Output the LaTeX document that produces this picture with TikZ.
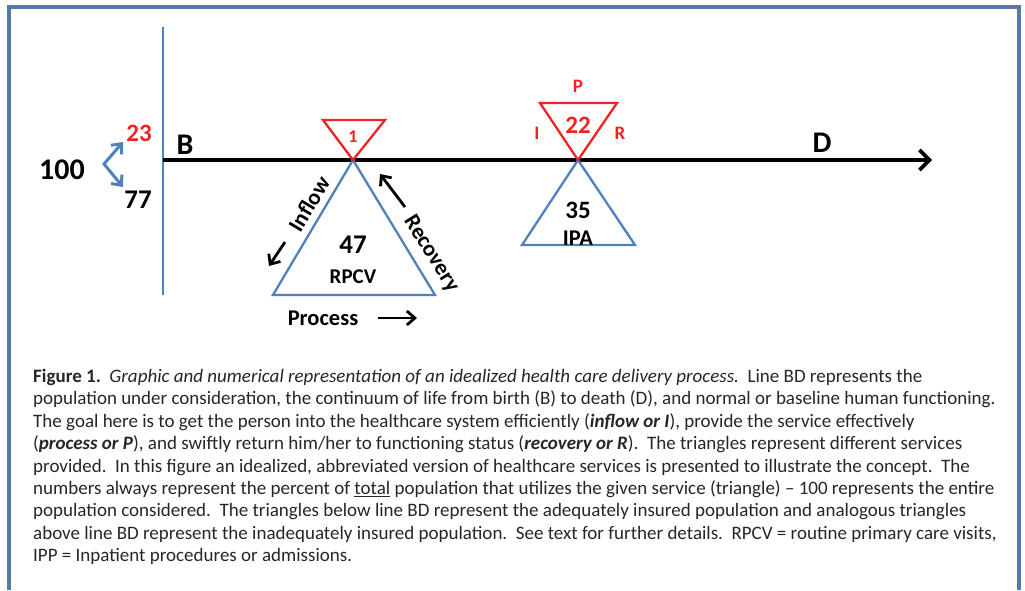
\documentclass[tikz,border=0pt]{standalone}
\usepackage{fontspec}
\setmainfont{Carlito}
\usepackage{xcolor}
\usetikzlibrary{arrows.meta,positioning}
\definecolor{lineblue}{HTML}{4F81BD}
\definecolor{frameblue}{HTML}{5679AC}
\definecolor{markred}{HTML}{F02222}

\begin{document}
\begin{tikzpicture}[x=1pt,y=-1pt,
  lbl/.style={inner sep=0pt, font=\bfseries\fontsize{30}{32}\selectfont},
  num/.style={inner sep=0pt, font=\bfseries\fontsize{27}{29}\selectfont},
  small/.style={inner sep=0pt, font=\bfseries\fontsize{22.5}{24}\selectfont},
  redlbl/.style={inner sep=0pt, text=markred, font=\bfseries\fontsize{19}{21}\selectfont},
  blutri/.style={draw=lineblue, line width=2.3pt, line join=miter},
  redtri/.style={draw=markred, line width=2.3pt, line join=miter},
  arr/.style={-{Straight Barb[length=8pt,width=14pt]}, line width=2.8pt},
  axis/.style={-{Straight Barb[length=10pt,width=20pt]}, line width=3.6pt}
]
\useasboundingbox (0,0) rectangle (1025,590);
% frame round the figure
\draw[frameblue, line width=3.5pt] (9,590) -- (9,7) -- (1019,7) -- (1019,590);

% line BD
\coordinate (birth) at (163,160);
\coordinate (death) at (932,160);
\draw[lineblue, line width=2.6pt] (163,27) -- (163,295);
\draw[axis] (birth) -- (death);
\node[lbl] (B) at (185,145) {B};
\node[lbl] (D) at (822,143) {D};

% split of the population
\node[lbl] (total) at (62,170) {100};
\node[num, text=markred, font=\bfseries\fontsize{25}{27}\selectfont] (uninsured) at (139,133) {23};
\node[num] (insured) at (138,200) {77};
\coordinate (split) at (104,164);
\coordinate (uptip) at (123,142);
\coordinate (downtip) at (123,187);
\draw[lineblue, line width=3pt, {Straight Barb[length=8pt,width=14pt]}-{Straight Barb[length=8pt,width=14pt]}]
  (uptip) -- (split) -- (downtip);

% routine primary care visits
\coordinate (apexA) at (353,160);
\draw[blutri] (apexA) -- (273,295) -- (435,295) -- cycle;
\draw[redtri] (apexA) -- (323,120) -- (385,120) -- cycle;
\node[redlbl, font=\bfseries\fontsize{18}{20}\selectfont] (oneA) at (353,137) {1};
\node[num] (rpcvN) at (353,245) {47};
\node[small, font=\bfseries\fontsize{21}{23}\selectfont] (rpcv) at (353,277) {RPCV};
\node[small, rotate=59] (inflow) at (309,204) {Inflow};
\node[small, rotate=-58] (recov) at (431,254) {Recovery};
\node[small] (process) at (323,318) {Process};
\coordinate (inS) at (285,242);
\coordinate (inE) at (269,266);
\coordinate (reS) at (405,207);
\coordinate (reE) at (380,174);
\coordinate (prS) at (378,318);
\coordinate (prE) at (417,318);
\draw[arr] (inS) -- (inE);
\draw[arr] (reS) -- (reE);
\draw[arr] (prS) -- (prE);

% inpatient admissions
\coordinate (apexB) at (578,160);
\draw[blutri] (apexB) -- (522,245) -- (635,245) -- cycle;
\draw[redtri] (apexB) -- (540,103) -- (617,103) -- cycle;
\node[redlbl, font=\bfseries\fontsize{25}{27}\selectfont] (twoB) at (578,125) {22};
\node[redlbl] (P) at (578,86) {P};
\node[redlbl] (I) at (537,133) {I};
\node[redlbl] (R) at (620,133) {R};
\node[num, font=\bfseries\fontsize{25}{27}\selectfont] (ipaN) at (578,210) {35};
\node[small] (ipa) at (578,238) {IPA};

% caption
\node[anchor=north west, align=left, inner sep=0pt, text=black!85,
      font=\fontsize{19}{22.4}\selectfont] (caption) at (33,369)
{\textbf{Figure 1.}\ \ \textit{Graphic and numerical representation of an idealized health care delivery process.}\ \ Line BD represents the\\
population under consideration, the continuum of life from birth (B) to death (D), and normal or baseline human functioning.\\
The goal here is to get the person into the healthcare system efficiently (\textbf{\textit{inflow or I}}), provide the service effectively\\
(\textbf{\textit{process or P}}), and swiftly return him/her to functioning status (\textbf{\textit{recovery or R}}).\ \ The triangles represent different services\\
provided.\ \ In this figure an idealized, abbreviated version of healthcare services is presented to illustrate the concept.\ \ The\\
numbers always represent the percent of \underline{total} population that utilizes the given service (triangle) -- 100 represents the entire\\
population considered.\ \ The triangles below line BD represent the adequately insured population and analogous triangles\\
above line BD represent the inadequately insured population.\ \ See text for further details.\ \ RPCV = routine primary care visits,\\
IPP = Inpatient procedures or admissions.};
\end{tikzpicture}
\end{document}
